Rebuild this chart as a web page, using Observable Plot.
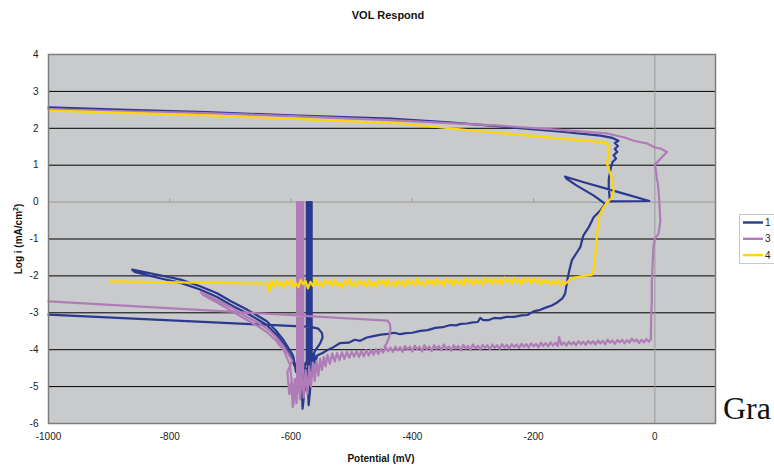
<!DOCTYPE html>
<html><head><meta charset="utf-8">
<script src="https://cdn.jsdelivr.net/npm/d3@7"></script>
<script src="https://cdn.jsdelivr.net/npm/@observablehq/plot@0.6"></script>
<style>body{margin:0;background:#fff;} svg{display:block}</style>
</head><body><div id="chart"></div>
<script>
const title = "VOL Respond";
const xLabel = "Potential (mV)";
const yLabelMain = "Log i (mA/cm";
const yLabelSup = "2";
const yLabelEnd = ")";
const sideText = "Gra";
const xTicks = [-1000, -800, -600, -400, -200, 0];
const yTicks = [-6, -5, -4, -3, -2, -1, 0, 1, 2, 3, 4];
const seriesNames = ["1", "3", "4"];
const seriesColors = ["#2b3a8f", "#b07cb8", "#ffd700"];

// [potential mV, log i]; null = break in the trace
const series1 = [
  [-1000,2.57],[-870,2.50],[-740,2.44],[-600,2.35],[-436,2.26],[-340,2.16],[-255,2.05],[-150,1.90],[-90,1.80],[-70,1.74],
  [-60,1.66],[-66,1.60],[-61,1.52],[-66,1.44],[-62,1.36],[-68,1.27],[-64,1.18],[-70,1.08],[-73,0.90],[-76,0.63],[-76,0.40],[-75,0.18],[-74,0.02],
  [-9,0.03],[-60,0.27],[-120,0.55],[-142,0.66],[-148,0.69],[-146,0.64],[-130,0.46],[-100,0.17],[-82,-0.05],
  [-90,-0.23],[-101,-0.41],[-109,-0.68],[-118,-0.91],[-123,-1.22],[-130,-1.40],[-137,-1.58],[-141,-1.85],[-144,-2.08],[-148,-2.48],
  [-152,-2.60],[-161,-2.72],[-170,-2.80],[-180,-2.86],[-189,-2.92],[-200,-2.96],[-210,-3.06],[-220,-3.07],[-232,-3.11],[-245,-3.11],
  [-255,-3.15],[-265,-3.14],[-275,-3.20],[-283,-3.20],[-288,-3.14],[-292,-3.25],[-300,-3.26],[-310,-3.29],[-320,-3.30],[-328,-3.34],
  [-337,-3.33],[-350,-3.39],[-362,-3.41],[-375,-3.47],[-387,-3.49],[-400,-3.54],[-410,-3.55],[-420,-3.58],[-430,-3.54],[-440,-3.57],
  [-452,-3.59],[-464,-3.63],[-475,-3.67],[-486,-3.76],[-495,-3.73],[-505,-3.81],[-519,-3.82],[-530,-3.93],[-540,-4.01],[-548,-4.09],[-557,-4.16],
  [-560,-4.35],[-562,-4.10],[-564,-4.60],[-566,-4.30],[-568,-5.00],[-571,-5.50],[-573,-4.50],[-575,-5.10],[-577,-4.40],[-579,-5.30],
  [-581,-5.60],[-583,-4.60],[-586,-4.90],[-589,-4.40],[-592,-4.60],[-596,-4.20],
  [-598,-4.12],[-612,-3.75],[-625,-3.48],[-640,-3.23],[-655,-3.08],[-672,-2.92],[-700,-2.68],[-722,-2.47],[-750,-2.28],[-782,-2.10],[-820,-1.97],[-862,-1.83],
  [-858,-1.89],[-820,-2.05],[-782,-2.19],[-750,-2.37],[-722,-2.57],[-700,-2.78],[-672,-3.02],[-655,-3.18],[-640,-3.33],[-625,-3.58],[-612,-3.86],
  [-600,-4.20],[-594,-4.45],[-588,-4.30],[-580,-4.50],[-576,-4.35],
  [-574,-4.4],[-574,0],[-572,0],[-572,-4.6],[-570,-4.6],[-570,0],[-568,0],[-568,-4.3],[-566,-4.3],[-566,0],
  null,
  [-1000,-3.05],[-568,-3.38],[-555,-3.43],[-549,-3.55],[-548,-3.67],[-552,-3.83],[-560,-4.02],[-564,-4.15]
];

const series3 = [
  [-1000,2.52],[-870,2.46],[-740,2.41],[-600,2.33],[-436,2.22],[-340,2.14],[-255,2.07],[-150,1.95],[-79,1.86],[-50,1.75],
  [-36,1.67],[-25,1.63],[-13,1.59],[0,1.48],[10,1.45],[20,1.36],[12,1.22],[3,1.07],[0,1.00],[2,0.85],[3,0.67],[5,0.50],[6,0.31],
  [7,0.10],[9,-0.50],[6,-0.86],[0,-0.99],[-2.5,-1.22],[-4,-1.80],[-5,-2.12],[-5,-2.67],[-6,-3.10],[-6.6,-3.68],
  [-6,-3.70],[-10,-3.79],[-14,-3.71],[-18,-3.80],[-22,-3.73],[-26,-3.82],[-30,-3.72],[-34,-3.78],[-38,-3.70],[-42,-3.81],
  [-46,-3.74],[-50,-3.83],[-54,-3.73],[-58,-3.80],[-62,-3.74],[-66,-3.84],[-70,-3.75],[-74,-3.81],[-78,-3.73],[-82,-3.85],
  [-86,-3.76],[-90,-3.83],[-94,-3.75],[-98,-3.86],[-102,-3.77],[-106,-3.84],[-110,-3.76],[-114,-3.87],[-118,-3.78],[-122,-3.85],
  [-126,-3.77],[-130,-3.88],[-134,-3.79],[-138,-3.86],[-142,-3.78],[-146,-3.89],[-150,-3.80],[-154,-3.87],[-158,-3.66],[-160,-3.90],
  [-164,-3.81],[-168,-3.89],[-172,-3.80],[-176,-3.91],[-180,-3.82],[-184,-3.90],[-188,-3.81],[-192,-3.93],[-196,-3.84],[-200,-3.91],
  [-204,-3.83],[-208,-3.94],[-212,-3.85],[-216,-3.92],[-220,-3.84],[-224,-3.95],[-228,-3.86],[-232,-3.93],[-236,-3.85],[-240,-3.97],
  [-244,-3.87],[-248,-3.94],[-252,-3.85],[-256,-3.98],[-260,-3.88],[-264,-3.95],[-268,-3.86],[-272,-3.99],[-276,-3.88],[-280,-3.95],
  [-284,-3.87],[-288,-4.00],[-292,-3.89],[-296,-3.96],[-300,-3.86],[-304,-4.01],[-308,-3.90],[-312,-3.97],[-316,-3.87],[-320,-4.02],
  [-324,-3.90],[-328,-3.97],[-332,-3.88],[-336,-4.03],[-340,-3.91],[-344,-3.98],[-348,-3.86],[-352,-4.02],[-356,-3.90],[-360,-3.98],
  [-364,-3.88],[-368,-4.04],[-372,-3.91],[-376,-3.99],[-380,-3.88],[-384,-4.05],[-388,-3.92],[-392,-3.99],[-396,-3.89],[-400,-4.05],
  [-404,-3.92],[-408,-4.00],[-412,-3.90],[-416,-4.06],[-420,-3.93],[-424,-4.02],[-428,-3.92],[-432,-4.06],[-436,-3.94],[-440,-4.04],
  [-444,-3.93],[-448,-4.08],[-452,-3.97],[-456,-4.12],[-460,-3.98],[-464,-4.14],[-468,-4.00],[-472,-4.16],[-476,-4.01],[-480,-4.18],
  [-484,-4.03],[-488,-4.20],[-492,-4.04],[-496,-4.19],[-500,-4.05],[-504,-4.22],[-508,-4.06],[-512,-4.25],[-516,-4.07],[-520,-4.28],
  [-524,-4.09],[-528,-4.32],[-532,-4.10],[-536,-4.38],[-540,-4.14],[-543,-4.45],[-546,-4.20],[-549,-4.55],[-552,-4.25],[-555,-4.70],
  [-558,-4.30],[-561,-4.85],[-564,-4.35],[-567,-5.00],[-570,-4.45],[-573,-5.20],[-576,-4.55],[-579,-5.30],[-582,-4.60],[-585,-5.35],
  [-588,-4.70],[-591,-5.45],[-594,-4.80],[-597,-5.55],[-600,-4.90],[-603,-5.20],[-606,-4.60],
  [-598,-4.30],[-612,-3.92],[-625,-3.65],[-640,-3.42],[-655,-3.27],[-672,-3.12],[-700,-2.84],[-725,-2.63],[-749,-2.44],
  [-745,-2.52],[-722,-2.72],[-700,-2.93],[-672,-3.20],[-655,-3.36],[-640,-3.52],[-625,-3.75],[-612,-4.02],[-602,-4.40],
  [-598,-5.00],[-596,-5.50],[-592,-4.80],[-590,-4.80],[-590,0],[-588,0],[-588,-4.9],[-586,-4.9],[-586,0],[-584,0],
  [-584,-4.6],[-582,-4.6],[-582,0],[-580,0],[-580,-4.5],
  null,
  [-1000,-2.69],[-441,-3.21],[-437,-3.30],[-436,-3.45],[-438,-3.65],[-442,-3.82],[-446,-3.92]
];

const series4 = [
  [-898,-2.15],[-639,-2.21],
  [-636,-2.42],[-632,-2.14],[-628,-2.30],[-624,-2.12],[-620,-2.26],[-616,-2.17],[-612,-2.33],[-608,-2.13],[-604,-2.24],[-600,-2.10],
  [-596,-2.29],[-592,-2.19],[-588,-2.31],[-584,-2.11],[-580,-2.22],[-576,-2.14],[-572,-2.34],[-568,-2.16],[-564,-2.27],[-560,-2.09],
  [-556,-2.25],[-552,-2.18],[-548,-2.30],[-544,-2.12],[-540,-2.21],[-536,-2.13],[-532,-2.28],[-528,-2.10],[-524,-2.26],[-520,-2.19],
  [-516,-2.32],[-512,-2.14],[-508,-2.24],[-504,-2.08],[-500,-2.27],[-496,-2.17],[-492,-2.29],[-488,-2.12],[-484,-2.23],[-480,-2.15],
  [-476,-2.30],[-472,-2.11],[-468,-2.26],[-464,-2.18],[-460,-2.31],[-456,-2.10],[-452,-2.22],[-448,-2.13],[-444,-2.28],[-440,-2.09],
  [-436,-2.25],[-432,-2.16],[-428,-2.29],[-424,-2.12],[-420,-2.24],[-416,-2.14],[-412,-2.30],[-408,-2.10],[-404,-2.21],[-400,-2.13],
  [-396,-2.27],[-392,-2.06],[-388,-2.23],[-384,-2.15],[-380,-2.28],[-376,-2.10],[-372,-2.20],[-368,-2.12],[-364,-2.26],[-360,-2.08],
  [-356,-2.22],[-352,-2.14],[-348,-2.27],[-344,-2.07],[-340,-2.19],[-336,-2.11],[-332,-2.25],[-328,-2.09],[-324,-2.21],[-320,-2.13],
  [-316,-2.26],[-312,-2.06],[-308,-2.18],[-304,-2.10],[-300,-2.24],[-296,-2.08],[-292,-2.20],[-288,-2.12],[-284,-2.25],[-280,-2.05],
  [-276,-2.17],[-272,-2.09],[-268,-2.22],[-264,-2.06],[-260,-2.19],[-256,-2.11],[-252,-2.23],[-248,-2.04],[-244,-2.16],[-240,-2.09],
  [-236,-2.21],[-232,-2.05],[-228,-2.18],[-224,-2.10],[-220,-2.22],[-216,-2.07],[-212,-2.15],[-208,-2.08],[-204,-2.20],[-200,-2.06],
  [-196,-2.17],[-192,-2.10],[-188,-2.23],[-184,-2.11],[-180,-2.19],[-176,-2.12],[-172,-2.24],[-168,-2.13],[-164,-2.21],[-160,-2.12],
  [-156,-2.25],[-152,-2.14],[-148,-2.22],
  [-140,-2.10],[-135,-2.06],[-128,-2.03],[-118,-2.00],[-104,-1.97],[-102,-1.93],[-100,-1.70],[-98,-1.40],[-96,-1.00],[-93,-0.50],
  [-90,-0.30],[-85,-0.15],[-79,-0.01],[-72,0.10],[-70,0.18],[-68,0.30],[-69,0.45],[-72,0.70],[-76,0.90],[-79,1.05],[-77,1.20],
  [-75,1.30],[-78,1.40],[-76,1.50],[-79,1.58],[-82,1.63],[-90,1.63],[-200,1.79],[-300,1.94],[-420,2.13],[-601,2.26],[-738,2.35],[-870,2.42],[-1000,2.48]
];

const seriesData = [series1, series3, series4];

const W = 774, H = 471;
const mL = 48, mR = 59, mT = 54, mB = 48;
const px = d => d ? d[0] : NaN;
const py = d => d ? d[1] : NaN;

const chart = Plot.plot({
  width: W, height: H,
  marginLeft: mL, marginRight: mR, marginTop: mT, marginBottom: mB,
  style: {background: "#fff", fontFamily: "'Liberation Sans', Arial, sans-serif", fontSize: "10px", color: "#222"},
  x: {domain: [-1000, 100]},
  y: {domain: [-6, 4]},
  marks: [
    Plot.frame({fill: "#c9cacc", stroke: null}),
    Plot.ruleY(yTicks.filter(v => v !== 0 && v !== 4 && v !== -6), {stroke: "#000", strokeWidth: 1}),
    Plot.ruleY([0], {stroke: "#9a9a9a", strokeWidth: 1}),
    Plot.ruleX([0], {stroke: "#9a9a9a", strokeWidth: 1}),
    Plot.ruleX(xTicks.filter(v => v !== 0 && v !== -1000), {y1: 0, y2: 0.09, stroke: "#9a9a9a", strokeWidth: 1}),
    ...seriesData.map((s, i) => Plot.line(s, {x: px, y: py, stroke: seriesColors[i], strokeWidth: 2.2, strokeLinejoin: "round", strokeLinecap: "round"})),
    Plot.frame({stroke: "#7d7d7d", strokeWidth: 1.5}),
    Plot.axisX({ticks: xTicks, tickSize: 0, tickPadding: 9, tickFormat: d => String(d), label: null}),
    Plot.axisY({ticks: yTicks, tickSize: 0, tickPadding: 10, tickFormat: d => String(d), label: null})
  ]
});

document.getElementById("chart").appendChild(chart);
const svg = d3.select(chart);
const font = "'Liberation Sans', Arial, sans-serif";

svg.append("text").attr("x", 388).attr("y", 19).attr("text-anchor", "middle")
  .attr("font-family", font).attr("font-size", 11).attr("font-weight", "bold").attr("fill", "#111").text(title);

svg.append("text").attr("x", 381).attr("y", 462).attr("text-anchor", "middle")
  .attr("font-family", font).attr("font-size", 10).attr("font-weight", "bold").attr("fill", "#111").text(xLabel);

const yl = svg.append("text").attr("transform", "translate(22,239) rotate(-90)").attr("text-anchor", "middle")
  .attr("font-family", font).attr("font-size", 10).attr("font-weight", "bold").attr("fill", "#111");
yl.append("tspan").text(yLabelMain);
yl.append("tspan").attr("dy", -4).attr("font-size", 7).text(yLabelSup);
yl.append("tspan").attr("dy", 4).text(yLabelEnd);

const lg = svg.append("g");
lg.append("rect").attr("x", 739.5).attr("y", 214.5).attr("width", 40).attr("height", 49)
  .attr("fill", "#fff").attr("stroke", "#c8c8c8");
seriesNames.forEach((n, i) => {
  const yy = 222.5 + i * 16.3;
  lg.append("line").attr("x1", 743).attr("x2", 763).attr("y1", yy).attr("y2", yy)
    .attr("stroke", seriesColors[i]).attr("stroke-width", 2.4);
  lg.append("text").attr("x", 765).attr("y", yy + 3.6).attr("text-anchor", "start").attr("font-family", font).attr("font-size", 10)
    .attr("fill", "#222").text(n);
});

svg.append("text").attr("x", 723).attr("y", 419).attr("text-anchor", "start")
  .attr("font-family", "'Liberation Serif', 'Times New Roman', serif")
  .attr("font-size", 32).attr("fill", "#111").text(sideText);
</script>
</body></html>
